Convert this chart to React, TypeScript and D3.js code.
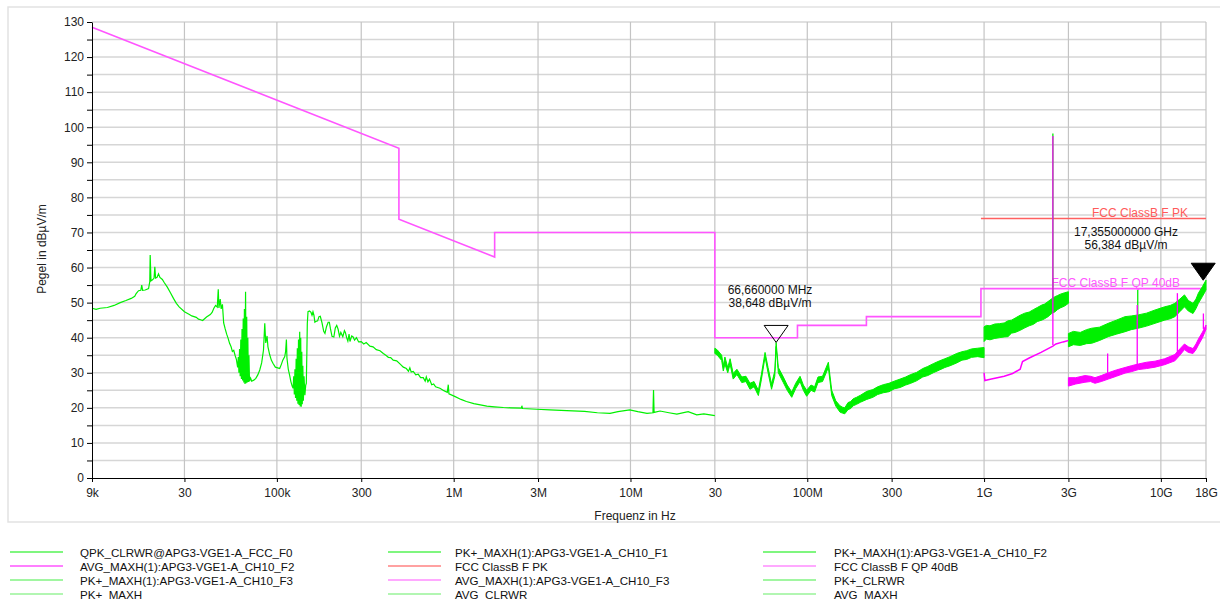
import React, { useEffect, useRef } from "react";
import * as d3 from "d3";

const FONT = "'Liberation Sans', Arial, sans-serif";
const W = 1220;
const H = 600;
const plot = { left: 92, right: 1206, top: 22, bottom: 478 };

// axis ticks
const xTicks = [9e3, 3e4, 1e5, 3e5, 1e6, 3e6, 1e7, 3e7, 1e8, 3e8, 1e9, 3e9, 1e10, 1.8e10];
const xTickLabels = ["9k", "30", "100k", "300", "1M", "3M", "10M", "30", "100M", "300", "1G", "3G", "10G", "18G"];
const yTicks = [0, 5, 10, 15, 20, 25, 30, 35, 40, 45, 50, 55, 60, 65, 70, 75, 80, 85, 90, 95, 100, 105, 110, 115, 120, 125, 130];

// limit lines [Hz, dBuV/m]
const qpLimit: [number, number][] = [
  [9e3, 128.5], [490e3, 94], [490e3, 73.8], [1.705e6, 63], [1.705e6, 70], [30e6, 70],
  [30e6, 40], [88e6, 40], [88e6, 43.5], [216e6, 43.5], [216e6, 46], [960e6, 46], [960e6, 54], [18e9, 54],
];
const pkLimit: [number, number][] = [[960e6, 74], [18e9, 74]];

// QPK_CLRWR F0, 9 kHz - 30 MHz [Hz, dB]
const qpkF0: [number, number][] = [
  [9e3, 48.4], [9.5e3, 48.1], [10e3, 48.4], [11e3, 48.6], [12e3, 49.2], [13e3, 50], [14e3, 50.6], [15e3, 51.2],
  [15.7e3, 51.8], [16e3, 52.6], [16.5e3, 53.4], [17e3, 53.5], [17.2e3, 55], [17.4e3, 53.5], [18e3, 53.6],
  [18.8e3, 54], [19.1e3, 56], [19.2e3, 63.6], [19.4e3, 56.2], [19.8e3, 56.5], [20.2e3, 57], [20.4e3, 60.2],
  [20.6e3, 57], [21e3, 57.2], [21.4e3, 58.2], [21.8e3, 57.2], [22.5e3, 56.6], [23e3, 55.8], [24e3, 54.4],
  [25e3, 52.8], [26e3, 51.2], [27e3, 49.8], [28e3, 48.8], [30e3, 47.4], [32e3, 46.6], [33e3, 46.2],
  [35e3, 45.8], [36e3, 45.3], [37e3, 45.1], [38e3, 44.9], [39e3, 45.4], [40e3, 45.9], [42e3, 46.6],
  [43e3, 47.2], [44e3, 48.4], [45e3, 49.2], [46e3, 48.7], [46.6e3, 53.8], [47e3, 48.5], [47.8e3, 51],
  [48.4e3, 48.2], [49.2e3, 49.5], [50e3, 44.2], [51e3, 42.5], [52e3, 41], [53e3, 39.8], [54e3, 38.4],
  [55e3, 37.5], [56e3, 36.1], [57e3, 36.4], [58e3, 35], [59e3, 33.8], [60e3, 31.5], [60.5e3, 34.5],
  [61e3, 30], [61.5e3, 36.8], [62e3, 29], [62.5e3, 39.5], [63e3, 28.2], [63.5e3, 42.5], [64e3, 27.8],
  [64.5e3, 45.5], [65e3, 27.2], [65.5e3, 48.2], [66e3, 26.8], [66.5e3, 53.1], [67e3, 27], [67.5e3, 46],
  [68e3, 27.2], [68.5e3, 40], [69e3, 27.4], [69.5e3, 35], [70e3, 27.6], [71e3, 28.5], [72e3, 27.6],
  [74e3, 27.9], [76e3, 28.4], [78e3, 29.4], [80e3, 30.8], [82e3, 32.8], [84e3, 36.5], [85.4e3, 44.1],
  [86.5e3, 38.5], [88e3, 40.5], [89e3, 37.4], [91e3, 35.2], [93e3, 33.6], [95e3, 32.7], [98e3, 31.6],
  [101e3, 31.4], [103.7e3, 31.2], [106e3, 32.4], [108e3, 33.6], [110.8e3, 34.6], [112e3, 36],
  [113.2e3, 39.5], [114e3, 34.2], [116e3, 31], [118e3, 29.3], [120e3, 27.5], [122e3, 26.2],
  [123.5e3, 25.6], [124.5e3, 29], [125.5e3, 23.8], [126.5e3, 31], [127.5e3, 22.8], [128.5e3, 34],
  [129.5e3, 22], [130.5e3, 37], [131.5e3, 21.2], [132.5e3, 39.5], [133.5e3, 20.8], [134.6e3, 41.7],
  [135.5e3, 20.4], [136.4e3, 40], [137.4e3, 20.3], [138.3e3, 36], [139.2e3, 21], [140.2e3, 32],
  [141.2e3, 22], [142.4e3, 29], [144e3, 23.6], [145.5e3, 26.4], [146.7e3, 27], [147.8e3, 36],
  [148.6e3, 44], [150e3, 47.4], [153e3, 47.6], [156e3, 47.2], [158e3, 46.4], [160e3, 47.4], [162e3, 46.4],
  [164e3, 44.4], [166e3, 44.6], [170e3, 44.8], [173e3, 46], [176e3, 46.1], [180e3, 44.2], [184e3, 41.8],
  [187e3, 41.2], [191e3, 43.2], [195e3, 44.4], [198e3, 44.4], [201e3, 42.5], [205e3, 40.4], [210e3, 40.2],
  [214e3, 42.8], [218e3, 43.5], [222e3, 42.4], [226e3, 40.4], [230e3, 41.5], [236e3, 40.3], [241e3, 42],
  [244e3, 41.5], [248e3, 40], [252e3, 39], [256e3, 41], [259e3, 38.9], [265e3, 40.5], [270e3, 40.2],
  [275e3, 39.3], [282e3, 40], [290e3, 38.8], [300e3, 38.9], [310e3, 38.2], [320e3, 38.6], [336e3, 37.6],
  [350e3, 37.4], [365e3, 36.6], [383e3, 36.3], [400e3, 35.5], [415e3, 34.9], [427e3, 34.4], [440e3, 34.3],
  [455e3, 33.6], [476e3, 33.4], [500e3, 32.4], [519e3, 31.6], [540e3, 31.2], [555e3, 30.4], [565e3, 31.4],
  [575e3, 30.2], [591e3, 30.4], [610e3, 29.4], [630e3, 29.6], [650e3, 28.6], [673e3, 28.6], [690e3, 27.6],
  [700e3, 28.8], [715e3, 27.4], [730e3, 28.2], [751e3, 26.6], [770e3, 26.8], [790e3, 26], [836e3, 25.6],
  [880e3, 24.9], [920e3, 24.4], [932e3, 26.6], [940e3, 24], [1.02e6, 23.2], [1.1e6, 22.4], [1.18e6, 21.8],
  [1.3e6, 21.2], [1.54e6, 20.5], [1.7e6, 20.3], [1.91e6, 20.1], [2.1e6, 20], [2.42e6, 19.9], [2.43e6, 20.6],
  [2.45e6, 19.8], [2.95e6, 19.6], [3.5e6, 19.4], [4.36e6, 19.2], [5.5e6, 19], [6.5e6, 18.6], [7.66e6, 18.4],
  [8.5e6, 18.9], [9.9e6, 19.4], [11e6, 18.9], [12.4e6, 18.4], [13.4e6, 18.6], [13.5e6, 25.1], [13.6e6, 18.7],
  [14.7e6, 19.1], [16.5e6, 18.6], [18.3e6, 18.2], [21.2e6, 18.9], [23.7e6, 18], [26e6, 18.3], [30e6, 17.8],
];

// PK+ F1, 30 MHz - 1 GHz [Hz, low, high]
const pkF1: [number, number, number][] = [
  [30e6, 35.5, 37], [31e6, 35, 36.5], [32.8e6, 33.5, 35], [33.5e6, 30.5, 32], [34.2e6, 32.5, 34.5],
  [35.5e6, 30, 31.5], [36.6e6, 32.5, 34], [38.1e6, 28.2, 29.8], [40e6, 29.5, 31], [42.6e6, 27.2, 28.8],
  [45e6, 27.5, 29], [47.4e6, 25.3, 27], [50e6, 26, 27.5], [52.9e6, 23.5, 25], [55e6, 28, 29.5],
  [57.7e6, 34.5, 35.8], [60e6, 30, 31.5], [62.8e6, 25.3, 26.8], [65.5e6, 29, 30.5], [66.66e6, 37.5, 38.6],
  [68.6e6, 30, 31.5], [73.2e6, 27.2, 28.8], [77e6, 25, 26.5], [81.7e6, 23, 24.5], [86e6, 25.5, 27],
  [91e6, 27.5, 29], [95e6, 25, 26.5], [99.2e6, 23.3, 25], [105e6, 25, 26.5], [110e6, 24.5, 26],
  [115e6, 27.2, 28.8], [122e6, 27.5, 29], [131.6e6, 31.5, 33], [137.5e6, 23.5, 25], [145e6, 20.5, 22],
  [153e6, 18.8, 20.6], [158e6, 18.5, 20.2], [163e6, 18.3, 20], [170e6, 19.5, 21.5], [176e6, 19.8, 21.8],
  [182e6, 20.6, 22.6], [190e6, 21, 23], [200e6, 21.6, 23.6], [217e6, 22.4, 24.7], [235e6, 23, 25.2],
  [250e6, 23.8, 26], [269e6, 24.3, 26.6], [290e6, 24.6, 27], [310e6, 25.4, 27.6], [335e6, 25.8, 28.2],
  [360e6, 26.5, 28.8], [385e6, 27, 29.5], [415e6, 27.7, 30.1], [450e6, 28.8, 31.2], [480e6, 29.2, 31.8],
  [516e6, 30, 32.6], [560e6, 30.8, 33.4], [600e6, 31.5, 34], [642e6, 32, 34.6], [700e6, 32.8, 35.5],
  [750e6, 33.6, 36], [797e6, 33.8, 36.3], [850e6, 34.4, 36.8], [920e6, 34.6, 37], [1e9, 34.3, 37.2],
];

// PK+ F2, 1 - 3 GHz
const pkF2: [number, number, number][] = [
  [1e9, 38.9, 43.1], [1.03e9, 39.6, 43.5], [1.08e9, 39.4, 43.4], [1.15e9, 39.8, 43.9], [1.22e9, 40, 44],
  [1.3e9, 40.2, 44.2], [1.365e9, 40.3, 44.8], [1.43e9, 41.3, 45], [1.5e9, 41.5, 45.6], [1.6e9, 42.1, 46.4],
  [1.7e9, 42.8, 47], [1.8e9, 43.4, 47.3], [1.9e9, 43.8, 48], [2.0e9, 44.6, 48.6], [2.12e9, 45, 49.3],
  [2.2e9, 45.4, 49.6], [2.3e9, 46, 50.3], [2.4e9, 46.8, 51], [2.52e9, 47.4, 51.7], [2.6e9, 48, 52],
  [2.7e9, 48.5, 52.4], [2.85e9, 49, 52.8], [3e9, 49.8, 53.1],
];

// PK+ F3, 3 - 18 GHz
const pkF3: [number, number, number][] = [
  [3e9, 37.4, 41.2], [3.2e9, 38, 41.8], [3.5e9, 37.8, 41.5], [3.8e9, 38.3, 42.3], [4.06e9, 38.4, 42.7],
  [4.5e9, 39.2, 43], [5.04e9, 40.3, 44.1], [5.6e9, 41, 45], [6.27e9, 41.7, 46], [6.8e9, 42.3, 46.2],
  [7.45e9, 42.7, 46.5], [8.3e9, 43.3, 47], [9.27e9, 44.1, 47.9], [10.5e9, 45, 48.8], [11.3e9, 45.4, 49.2],
  [12e9, 46, 49.8], [12.8e9, 47.4, 51], [13.6e9, 48.8, 52.2], [14.3e9, 47.6, 50.6], [15.2e9, 46.9, 49.8],
  [15.8e9, 48.3, 51], [16.3e9, 49.8, 52.7], [17.2e9, 51.8, 54.6], [18e9, 53.6, 56.4],
];

// AVG F2, 1 - 3 GHz
const avgF2: [number, number][] = [
  [1e9, 30], [1.01e9, 27.8], [1.1e9, 28.2], [1.3e9, 29], [1.45e9, 29.8], [1.6e9, 31], [1.65e9, 33.2],
  [1.8e9, 34.2], [2.1e9, 35.8], [2.45e9, 37.6], [2.55e9, 38.2], [2.8e9, 38.8], [3e9, 39.2],
];

// AVG F3, 3 - 18 GHz
const avgF3: [number, number, number][] = [
  [3e9, 26.2, 28.6], [3.3e9, 26.8, 28.6], [3.72e9, 27.3, 29.2], [4.0e9, 27.5, 29], [4.24e9, 27, 28.6],
  [4.6e9, 27.5, 29.2], [5.04e9, 28.2, 30], [5.6e9, 29, 30.8], [6.27e9, 29.9, 31.5], [6.8e9, 30.3, 32],
  [7.45e9, 30.9, 32.5], [8.3e9, 31.2, 33], [9.27e9, 31.6, 33.3], [10.5e9, 32.3, 34], [12e9, 33.4, 35.2],
  [12.8e9, 35, 36.8], [13.6e9, 36.6, 38.2], [14.3e9, 35.8, 37.4], [15.2e9, 35.5, 36.9], [15.8e9, 36.6, 38.2],
  [16.3e9, 37.9, 39.6], [17.2e9, 40, 41.6], [18e9, 42.4, 43.6],
];

// single-bin spikes [Hz, base, top]
const greenSpikes: [number, number, number][] = [[2.45e9, 50, 98.2], [7.4e9, 46, 53.6]];
const magentaSpikes: [number, number, number][] = [
  [2.45e9, 37.9, 97.5], [5.0e9, 29, 35.5], [7.35e9, 31, 49.3], [12.4e9, 34.5, 52.7], [17.4e9, 42.5, 46.9],
];

// markers
const markerFreqs = [66.66e6, 17.355e9];
const markerLevels = [38.648, 56.384];
const markerTexts = [["66,660000 MHz", "38,648 dBµV/m"], ["17,355000000 GHz", "56,384 dBµV/m"]];

// legend
const legendLabels = [
  "QPK_CLRWR@APG3-VGE1-A_FCC_F0", "PK+_MAXH(1):APG3-VGE1-A_CH10_F1", "PK+_MAXH(1):APG3-VGE1-A_CH10_F2",
  "AVG_MAXH(1):APG3-VGE1-A_CH10_F2", "FCC ClassB F PK", "FCC ClassB F QP 40dB",
  "PK+_MAXH(1):APG3-VGE1-A_CH10_F3", "AVG_MAXH(1):APG3-VGE1-A_CH10_F3", "PK+_CLRWR",
  "PK+_MAXH", "AVG_CLRWR", "AVG_MAXH",
];
const legendColors = [
  "#00ee00", "#00ee00", "#00ee00",
  "#ff00ff", "#ff4444", "#ff55ff",
  "#44ee44", "#ff55ff", "#44ee44",
  "#66ee66", "#66ee66", "#66ee66",
];

const GREEN = "#00f000";
const MAGENTA = "#ff00ff";

export default function App() {
  const xAxisRef = useRef<SVGGElement>(null);
  const yAxisRef = useRef<SVGGElement>(null);

  const x = d3.scaleLog().domain([9e3, 18e9]).range([plot.left, plot.right]);
  const y = d3.scaleLinear().domain([0, 130]).range([plot.bottom, plot.top]);

  useEffect(() => {
    const xa = d3
      .axisBottom(x)
      .tickValues(xTicks)
      .tickFormat((d, i) => xTickLabels[i])
      .tickSize(4)
      .tickPadding(6)
      .tickSizeOuter(0);
    const gx = d3.select(xAxisRef.current!).call(xa as any);
    gx.select(".domain").attr("stroke", "#000");
    gx.selectAll("text").attr("font-family", FONT).attr("font-size", 12).attr("fill", "#222");

    const ya = d3
      .axisLeft(y)
      .tickValues(yTicks)
      .tickFormat((d: any) => (d % 10 === 0 ? String(d) : ""))
      .tickSize(5)
      .tickPadding(3)
      .tickSizeOuter(0);
    const gy = d3.select(yAxisRef.current!).call(ya as any);
    gy.select(".domain").attr("stroke", "#000");
    gy.selectAll("text").attr("font-family", FONT).attr("font-size", 12).attr("fill", "#222");
  }, []);

  const line = d3
    .line<[number, number]>()
    .x((d) => x(d[0]))
    .y((d) => y(d[1]));
  const band = d3
    .area<[number, number, number]>()
    .x((d) => x(d[0]))
    .y0((d) => y(d[1]))
    .y1((d) => y(d[2]));

  const spikes = (arr: [number, number, number][], color: string) =>
    arr.map((s, i) => (
      <line key={i} x1={x(s[0])} x2={x(s[0])} y1={y(s[1])} y2={y(s[2])} stroke={color} strokeWidth={1.3} />
    ));

  return (
    <svg width={W} height={H} style={{ position: "absolute", left: 0, top: 0, background: "#fff" }}>
      <rect x={8} y={7} width={1216} height={515} fill="none" stroke="#e2e2e2" strokeWidth={1.5} />

      {/* grid */}
      {yTicks.slice(1).map((t) => (
        <line key={"h" + t} x1={plot.left} x2={plot.right} y1={y(t)} y2={y(t)} stroke="#d6d6d6" strokeWidth={1.5} />
      ))}
      {xTicks.slice(1).map((t) => (
        <line key={"v" + t} x1={x(t)} x2={x(t)} y1={plot.top} y2={plot.bottom} stroke="#c4c4c4" strokeWidth={1.2} />
      ))}

      {/* limits */}
      <path d={line(pkLimit)!} fill="none" stroke="#ff6060" strokeWidth={1.5} />
      <path d={line(qpLimit)!} fill="none" stroke="#ff55ff" strokeWidth={1.6} />
      <text x={1188} y={217} textAnchor="end" fontFamily={FONT} fontSize={12} fill="#ff5a5a">FCC ClassB F PK</text>
      <text x={1180} y={287} textAnchor="end" fontFamily={FONT} fontSize={12} fill="#ff55ff">FCC ClassB F QP 40dB</text>

      {/* traces */}
      <path d={line(qpkF0)!} fill="none" stroke={GREEN} strokeWidth={1.2} />
      {[pkF1, pkF2, pkF3].map((b, i) => (
        <path key={"g" + i} d={band(b)!} fill={GREEN} stroke={GREEN} strokeWidth={1} />
      ))}
      {spikes(greenSpikes, GREEN)}
      <path d={line(avgF2)!} fill="none" stroke={MAGENTA} strokeWidth={1.5} />
      <path d={band(avgF3)!} fill={MAGENTA} stroke={MAGENTA} strokeWidth={1} />
      {spikes(magentaSpikes, MAGENTA)}

      {/* axes */}
      <g ref={xAxisRef} transform={`translate(0,${plot.bottom})`} />
      <g ref={yAxisRef} transform={`translate(${plot.left},0)`} />
      <text x={635} y={520} textAnchor="middle" fontFamily={FONT} fontSize={12} fill="#222">Frequenz in Hz</text>
      <text transform="translate(46,249) rotate(-90)" textAnchor="middle" fontFamily={FONT} fontSize={12} fill="#222">
        Pegel in dBµV/m
      </text>

      {/* markers */}
      {markerFreqs.map((f, i) => {
        const cx = x(f);
        const cy = y(markerLevels[i]);
        const pts = `${cx},${cy} ${cx - 12},${cy - 17} ${cx + 12},${cy - 17}`;
        return (
          <polygon key={"m" + i} points={pts} fill={i === 0 ? "none" : "#000"} stroke="#000" strokeWidth={1} />
        );
      })}
      {markerTexts.map((t, i) => {
        const tx = i === 0 ? 770 : 1126;
        const ty = i === 0 ? 294 : 236;
        return (
          <text key={"mt" + i} textAnchor="middle" fontFamily={FONT} fontSize={12} fill="#111">
            <tspan x={tx} y={ty}>{t[0]}</tspan>
            <tspan x={tx} y={ty + 13}>{t[1]}</tspan>
          </text>
        );
      })}

      {/* legend */}
      {legendLabels.map((lab, i) => {
        const col = i % 3;
        const row = Math.floor(i / 3);
        const lx = [10, 388, 763][col];
        const tx = [80, 455, 834][col];
        const ly = 552 + row * 14;
        return (
          <g key={"lg" + i}>
            <line x1={lx} x2={lx + 53} y1={ly} y2={ly} stroke={legendColors[i]} strokeWidth={1.1} />
            <text x={tx} y={ly + 5} fontFamily={FONT} fontSize={11.6} fill="#111">{lab}</text>
          </g>
        );
      })}
    </svg>
  );
}
